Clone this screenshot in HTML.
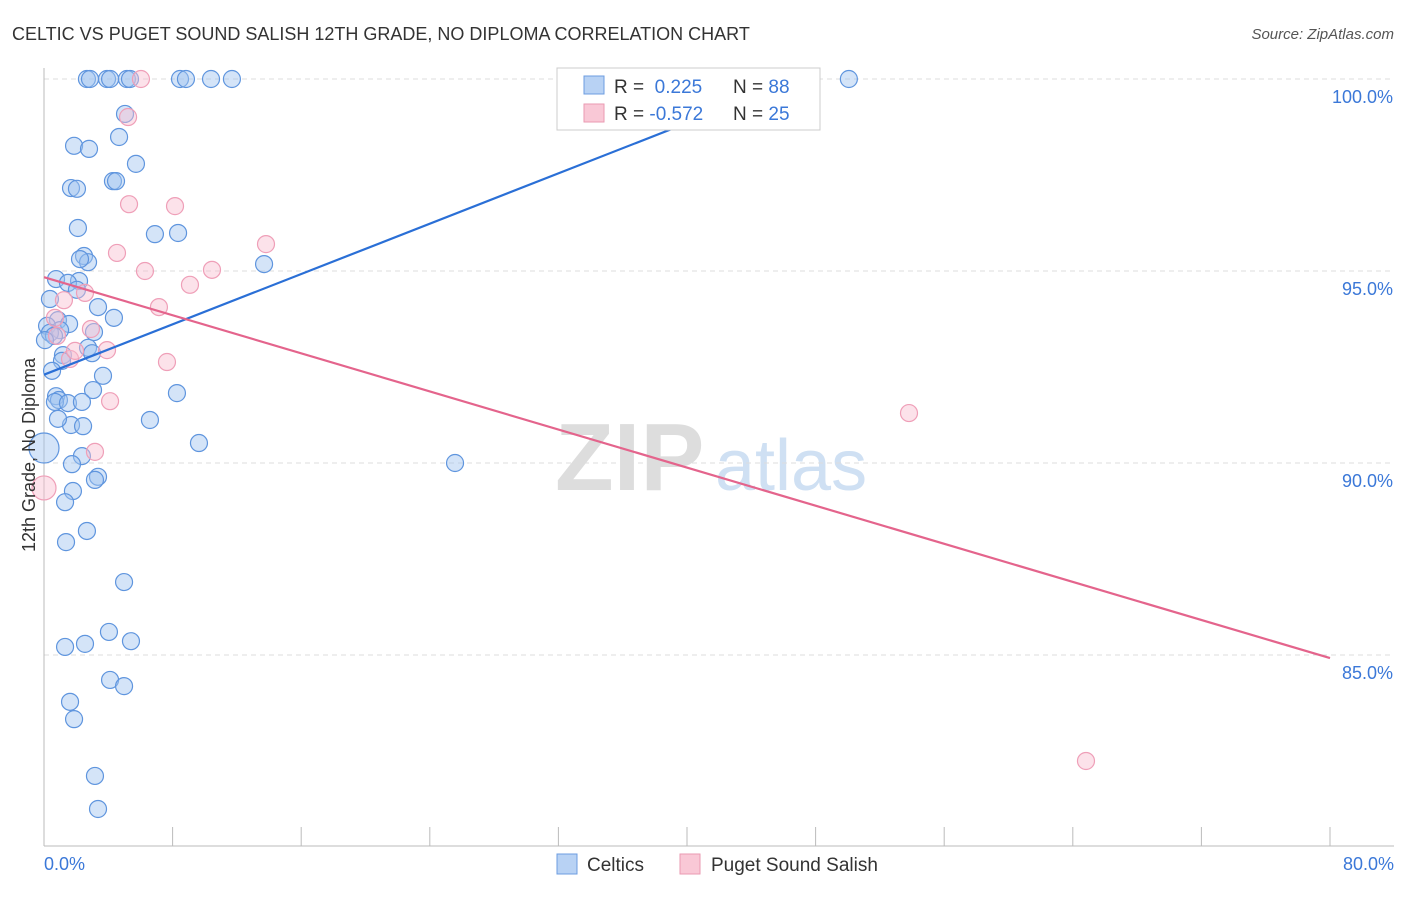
<!DOCTYPE html>
<html><head><meta charset="utf-8"><style>
body{margin:0;background:#fff;font-family:"Liberation Sans",sans-serif;}
svg text{font-family:"Liberation Sans",sans-serif;}
</style></head><body>
<svg id="chart" width="1406" height="892">
<text x="12" y="40" font-size="18" fill="#333">CELTIC VS PUGET SOUND SALISH 12TH GRADE, NO DIPLOMA CORRELATION CHART</text>
<text x="1394" y="39" font-size="15" fill="#555" font-style="italic" text-anchor="end">Source: ZipAtlas.com</text>
<text x="555" y="490" font-size="96" fill="#ddd" font-family="Liberation Serif" font-weight="bold">ZIP</text>
<text x="715" y="490" font-size="72" fill="#cfe0f3">atlas</text>
<g id="grid"></g><g id="axes"></g><g id="pts"></g><g id="trend"></g>
<text transform="translate(35,455) rotate(-90)" font-size="18" fill="#333" text-anchor="middle">12th Grade, No Diploma</text>
<text x="44" y="870" font-size="18" fill="#3b78d8">0.0%</text>
<text x="1394" y="870" font-size="18" fill="#3b78d8" text-anchor="end">80.0%</text>
<g>
<rect x="557" y="68" width="263" height="62" fill="#fff" stroke="#ccc"/>
<rect x="584" y="76" width="20" height="18" fill="#b8d2f4" stroke="#6c9ce0"/>
<rect x="584" y="104" width="20" height="18" fill="#f9c8d6" stroke="#ea9ab2"/>
<text x="614" y="93" font-size="19" fill="#333">R = <tspan fill="#3b78d8">&#160;0.225</tspan><tspan x="733">N = </tspan><tspan fill="#3b78d8">88</tspan></text>
<text x="614" y="120" font-size="19" fill="#333">R = <tspan fill="#3b78d8">-0.572</tspan><tspan x="733">N = </tspan><tspan fill="#3b78d8">25</tspan></text>
</g>
<g>
<rect x="557" y="854" width="20" height="20" fill="#b8d2f4" stroke="#6c9ce0"/>
<text x="587" y="871" font-size="19" fill="#333">Celtics</text>
<rect x="680" y="854" width="20" height="20" fill="#f9c8d6" stroke="#ea9ab2"/>
<text x="711" y="871" font-size="19" fill="#333">Puget Sound Salish</text>
</g>
</svg>
<script>
const yTicks=[100,95,90,85];
const yTickLabels=["100.0%","95.0%","90.0%","85.0%"];
const xTicks=[0,8,16,24,32,40,48,56,64,72,80];
const celticsX=[2.67,2.86,3.92,4.11,5.16,5.35,8.46,8.83,10.39,11.69,50.07,5.04,4.67,1.87,2.80,5.72,1.68,2.05,4.29,4.48,2.11,6.90,8.34,13.69,2.49,2.74,2.24,0.75,2.18,1.49,2.05,0.37,3.36,4.35,0.87,1.56,0.19,1.0,0.37,0.62,3.11,0.06,2.74,2.99,1.18,1.12,0.5,3.67,3.05,8.27,0.75,0.93,0.68,1.49,2.36,1.68,2.43,0.87,6.59,9.64,0,2.36,1.74,25.57,3.36,3.17,1.80,1.31,2.67,1.37,4.98,1.31,2.55,4.04,5.41,4.11,4.98,1.62,1.87,3.17,3.36];
const celticsY=[100,100,100,100,100,100,100,100,100,100,100,99.09,98.49,98.26,98.18,97.79,97.16,97.14,97.34,97.34,96.12,95.96,95.99,95.18,95.39,95.23,95.31,94.79,94.74,94.69,94.51,94.27,94.06,93.78,93.72,93.62,93.57,93.46,93.39,93.31,93.41,93.20,93.0,92.86,92.81,92.66,92.40,92.27,91.90,91.82,91.74,91.64,91.59,91.56,91.59,90.99,90.96,91.15,91.12,90.52,90.39,90.18,89.97,90.0,89.64,89.56,89.27,88.98,88.23,87.94,86.90,85.21,85.29,85.60,85.36,84.35,84.19,83.78,83.33,81.85,80.99];
const salishX=[6.03,5.23,5.29,8.15,13.81,4.54,6.28,10.45,9.08,2.55,7.15,1.24,2.92,0.81,7.65,3.92,1.62,1.93,4.11,3.17,0,53.81,64.82,0.68];
const salishY=[100,99.01,96.74,96.69,95.70,95.47,95.0,95.03,94.64,94.43,94.06,94.24,93.49,93.31,92.63,92.94,92.71,92.92,91.61,90.29,89.35,91.30,82.24,93.78];
const celticsTrendX=[0,47];
const celticsTrendY=[92.3,100];
const salishTrendX=[0,80];
const salishTrendY=[94.84,84.92];
const NS="http://www.w3.org/2000/svg";
const xs=v=>44+v/80*1286;
const ys=v=>79+(100-v)*38.4;
function mk(t,a,p){const e=document.createElementNS(NS,t);for(const k in a)e.setAttribute(k,a[k]);p.appendChild(e);return e;}
const grid=document.getElementById('grid'),axes=document.getElementById('axes'),pts=document.getElementById('pts'),trend=document.getElementById('trend');
yTicks.forEach((v,i)=>{
 const l=mk('line',{x1:44,x2:1394,y1:ys(v),y2:ys(v),stroke:'#ddd','stroke-dasharray':'5,4'},grid);
 
 
 const t=mk('text',{x:1393,y:ys(v)+24,'font-size':18,fill:'#3b78d8','text-anchor':'end'},grid);
 t.textContent=yTickLabels[i];
 
 
});
const ax=mk('line',{x1:44,x2:44,y1:68,y2:846,stroke:'#bbb'},axes);


const bx=mk('line',{x1:44,x2:1394,y1:846,y2:846,stroke:'#bbb'},axes);


xTicks.forEach(v=>{
 const t=mk('line',{x1:xs(v),x2:xs(v),y1:827,y2:846,stroke:'#bbb'},axes);
 
 
});
celticsX.forEach((x,i)=>{
 const r=(x===0)?15:8.5;
 const c=mk('circle',{cx:xs(x),cy:ys(celticsY[i]),r:r,fill:'rgba(160,196,240,0.45)',stroke:'#5f95de','stroke-width':1.2},pts);
 
 
});
salishX.forEach((x,i)=>{
 const r=(x===0)?12:8.5;
 const c=mk('circle',{cx:xs(x),cy:ys(salishY[i]),r:r,fill:'rgba(248,190,208,0.45)',stroke:'#ef9fb8','stroke-width':1.2},pts);
 
 
});
const bl=mk('line',{x1:xs(celticsTrendX[0]),y1:ys(celticsTrendY[0]),x2:xs(celticsTrendX[1]),y2:ys(celticsTrendY[1]),stroke:'#2a6fd6','stroke-width':2.2},trend);


const pl=mk('line',{x1:xs(salishTrendX[0]),y1:ys(salishTrendY[0]),x2:xs(salishTrendX[1]),y2:ys(salishTrendY[1]),stroke:'#e4648c','stroke-width':2.2},trend);


</script>
</body></html>
